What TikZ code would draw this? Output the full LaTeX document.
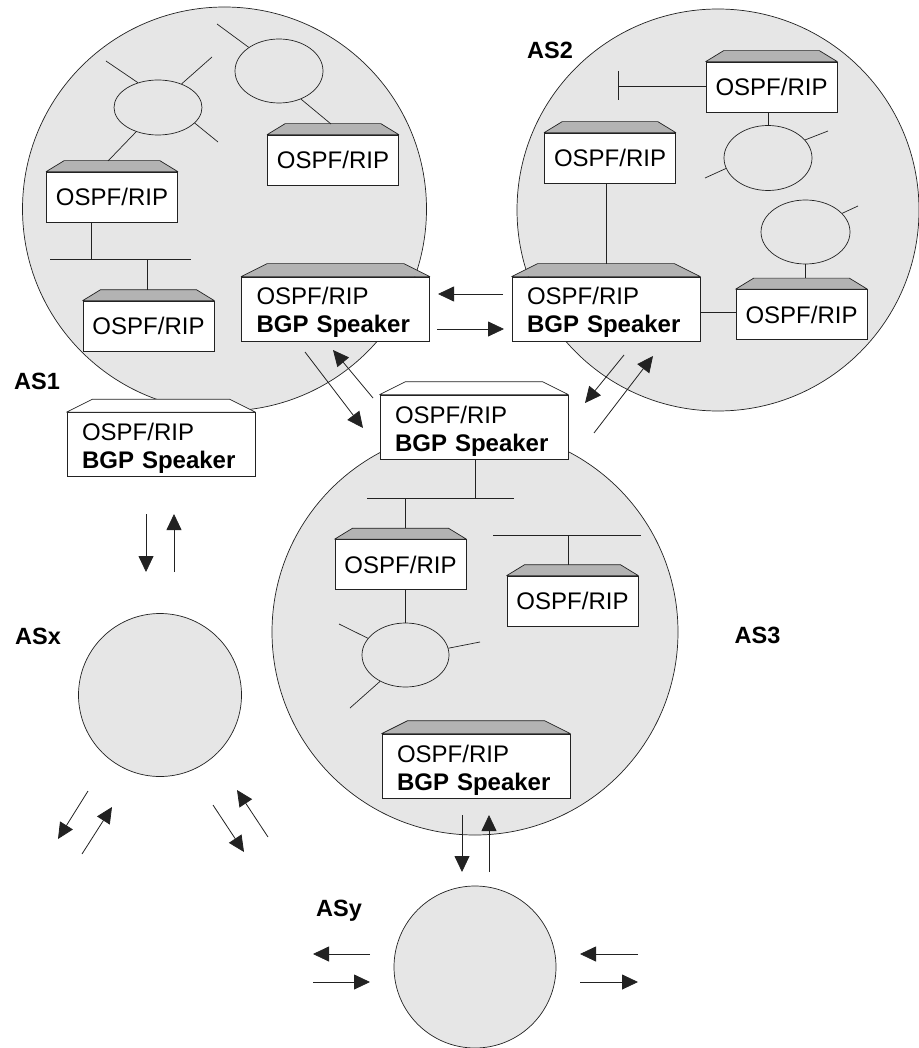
\documentclass[tikz,border=0pt]{standalone}
\usepackage{fontspec}
\setmainfont{Liberation Sans}
\usetikzlibrary{arrows.meta,shapes.geometric}
\definecolor{asfill}{HTML}{E6E6E6}
\definecolor{rooffill}{HTML}{B3B3B3}
\definecolor{ink}{HTML}{222222}
\tikzset{
  every node/.style={font=\fontsize{24}{28}\selectfont},
  ascircle/.style={circle, draw=ink, fill=asfill, line width=0.7pt, inner sep=0pt},
  aslabel/.style={font=\fontsize{23.5}{28}\selectfont\bfseries, inner sep=0pt},
  smallbox/.style={rectangle, draw=ink, fill=white, line width=0.7pt, minimum width=131pt, minimum height=50pt, inner sep=0pt},
  bgpbox/.style={rectangle, draw=ink, fill=white, line width=0.7pt, minimum height=64pt, text width=158pt, inner xsep=15pt, inner ysep=0pt, align=left, text height=17pt, text depth=25pt},
  lan/.style={ellipse, draw=ink, line width=0.7pt, inner sep=0pt},
  wire/.style={draw=ink, line width=0.7pt},
  roofline/.style={draw=ink, line width=0.7pt, line join=round},
  arr/.style={draw=ink, line width=0.8pt, -{Triangle[length=16pt,width=15pt]}},
}
\newcommand{\roof}[4]{%
  \filldraw[roofline, fill=#4] (#1.north west) -- ([shift={(#2pt,#3pt)}]#1.north west) -- ([shift={(-#2pt,#3pt)}]#1.north east) -- (#1.north east) -- cycle;
  \coordinate (#1-top) at ([yshift=#3pt]#1.north);}
\newcommand{\freearrow}[3]{%
  \coordinate (#1-s) at (#2); \coordinate (#1-e) at (#3);
  \draw[arr] (#1-s) -- (#1-e);}
\begin{document}
\begin{tikzpicture}[x=1pt, y=-1pt]
\useasboundingbox (0,0) rectangle (918,1048);
% AS clouds
\node[ascircle, minimum size=404pt] (as1) at (224.5,209) {};
\node[ascircle, minimum size=402pt] (as2) at (718,210) {};
\node[ascircle, minimum size=406pt] (as3) at (475,632) {};
\node[ascircle, minimum size=163pt] (asx) at (160,695) {};
\node[ascircle, minimum size=162pt] (asy) at (475,967) {};
% labels
\node[aslabel] (l1) at (37,381) {AS1};
\node[aslabel] (l2) at (550,50) {AS2};
\node[aslabel] (l3) at (757.5,635) {AS3};
\node[aslabel] (lx) at (38,636) {ASx};
\node[aslabel] (ly) at (339,911) {ASy};
% LAN ellipses
\node[lan, minimum width=88pt, minimum height=55pt] (e1) at (158,107.5) {};
\node[lan, minimum width=88pt, minimum height=64pt] (e2) at (279,71) {};
\node[lan, minimum width=88pt, minimum height=65pt] (e3) at (768,158) {};
\node[lan, minimum width=89pt, minimum height=64pt] (e4) at (805.5,232) {};
\node[lan, minimum width=87pt, minimum height=64pt] (e5) at (405.5,655) {};
% routers
\node[smallbox] (b1) at (333,160) {OSPF/RIP};
\node[smallbox] (b2) at (112,197) {OSPF/RIP};
\node[smallbox] (b3) at (148.5,326) {OSPF/RIP};
\node[bgpbox] (b4) at (335.5,309) {OSPF/RIP\\\textbf{BGP Speaker}};
\node[bgpbox] (b5) at (161,444.5) {OSPF/RIP\\\textbf{BGP Speaker}};
\node[smallbox] (b6) at (771.5,87) {OSPF/RIP};
\node[smallbox] (b7) at (610,158) {OSPF/RIP};
\node[bgpbox] (b8) at (606,309) {OSPF/RIP\\\textbf{BGP Speaker}};
\node[smallbox] (b9) at (801.5,314.5) {OSPF/RIP};
\node[bgpbox] (b10) at (474,427) {OSPF/RIP\\\textbf{BGP Speaker}};
\node[smallbox] (b11) at (400.5,564.5) {OSPF/RIP};
\node[smallbox] (b12) at (572.5,601) {OSPF/RIP};
\node[bgpbox] (b13) at (476,766) {OSPF/RIP\\\textbf{BGP Speaker}};
% roofs
\roof{b1}{18}{11}{rooffill}
\roof{b2}{18}{11}{rooffill}
\roof{b3}{18}{11}{rooffill}
\roof{b4}{26}{13}{rooffill}
\roof{b5}{26}{13}{white}
\roof{b6}{18}{11}{rooffill}
\roof{b7}{18}{11}{rooffill}
\roof{b8}{26}{13}{rooffill}
\roof{b9}{18}{11}{rooffill}
\roof{b10}{26}{13}{white}
\roof{b11}{18}{11}{rooffill}
\roof{b12}{18}{11}{rooffill}
\roof{b13}{26}{13}{rooffill}
% AS1 wiring
\coordinate (e1a) at (106,61);
\coordinate (e1b) at (212,57);
\coordinate (e1c) at (218,142);
\coordinate (e1d) at (108,161);
\draw[wire] (e1.129) -- (e1a);
\draw[wire] (e1.45) -- (e1b);
\draw[wire] (e1.337) -- (e1c);
\draw[wire] (e1.228) -- (e1d);
\coordinate (e2a) at (217,24);
\coordinate (e2b) at (331,124);
\draw[wire] (e2.142) -- (e2a);
\draw[wire] (e2.308) -- (e2b);
\coordinate (bus1L) at (50,259);
\coordinate (bus1R) at (191,259);
\draw[wire] (bus1L) -- (bus1R);
\draw[wire] ([xshift=-21pt]b2.south) -- ([xshift=-21pt]b2.south |- bus1L);
\draw[wire] ([xshift=-1.5pt]b3-top) -- ([xshift=-1.5pt]b3-top |- bus1L);
% AS2 wiring
\coordinate (t2) at (618,86);
\draw[wire] (b6.west |- t2) -- (t2);
\draw[wire] ([yshift=15pt]t2) -- ([yshift=-14pt]t2);
\draw[wire] (e3.north |- b6.south) -- (e3.north);
\coordinate (e3a) at (828,131);
\coordinate (e3b) at (705,178);
\draw[wire] (e3.26) -- (e3a);
\draw[wire] (e3.194) -- (e3b);
\coordinate (e4a) at (858,206);
\draw[wire] (e4.27) -- (e4a);
\draw[wire] (e4.south) -- (e4.south |- b9-top);
\draw[wire] (b8-top |- b7.south) -- (b8-top);
\draw[wire] ([yshift=-3pt]b8.east) -- ([yshift=-3pt]b8.east -| b9.west);
% AS3 wiring
\coordinate (bus3L) at (367,498);
\coordinate (bus3R) at (514,498);
\draw[wire] (bus3L) -- (bus3R);
\draw[wire] ([xshift=1pt]b10.south) -- ([xshift=1pt]b10.south |- bus3L);
\draw[wire] (e5.north |- bus3L) -- (e5.north |- b11-top);
\draw[wire] (e5.north |- b11.south) -- (e5.north);
\coordinate (bus4L) at (493,535);
\coordinate (bus4R) at (641,535);
\draw[wire] (bus4L) -- (bus4R);
\draw[wire] ([xshift=-4.5pt]b12-top) -- ([xshift=-4.5pt]b12-top |- bus4L);
\coordinate (e5a) at (339,624);
\coordinate (e5b) at (480,642);
\coordinate (e5c) at (350,708);
\draw[wire] (e5.156) -- (e5a);
\draw[wire] (e5.9) -- (e5b);
\draw[wire] (e5.226) -- (e5c);
% BGP exchanges
\freearrow{a1}{503,294}{438,294}
\freearrow{a2}{437,329}{504,329}
\freearrow{a3}{305,352}{363,428}
\freearrow{a4}{373,398}{333,350}
\freearrow{a5}{624,355}{585,403}
\freearrow{a6}{594,433}{653,356}
\freearrow{a7}{146,514}{146,572}
\freearrow{a8}{174,572}{174,514}
\freearrow{a9}{88,791}{58,839}
\freearrow{a10}{82,854}{112,807}
\freearrow{a11}{213,805}{244,852}
\freearrow{a12}{268,837}{237,790}
\freearrow{a13}{462,815}{462,872}
\freearrow{a14}{489,872}{489,815}
\freearrow{a15}{370,954}{313,954}
\freearrow{a16}{313,982}{370,982}
\freearrow{a17}{638,954}{580,954}
\freearrow{a18}{580,982}{638,982}
\end{tikzpicture}
\end{document}
